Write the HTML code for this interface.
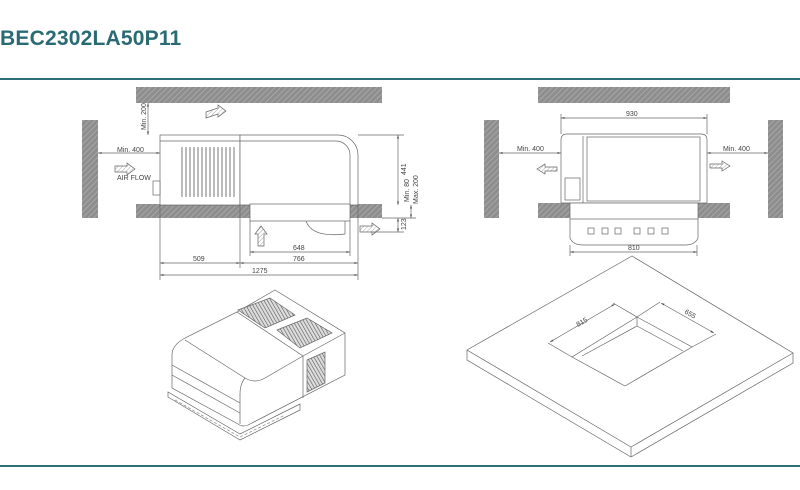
<!DOCTYPE html>
<html><head><meta charset="utf-8"><style>
html,body{margin:0;padding:0;background:#fff;width:800px;height:490px;overflow:hidden}
.t{position:absolute;left:0;top:27px;font:bold 21px "Liberation Sans",sans-serif;color:#2a6b73;letter-spacing:0.2px}
svg{position:absolute;left:0;top:0}
text{font-family:"Liberation Sans",sans-serif;font-size:7px;fill:#444}
</style></head><body>
<div class="t">BEC2302LA50P11</div>
<svg width="800" height="490" viewBox="0 0 800 490">
<defs>
<pattern id="h" width="4" height="4" patternUnits="userSpaceOnUse" patternTransform="rotate(45)">
<rect width="4" height="4" fill="#8e8e8e"/><line x1="0" y1="0" x2="0" y2="4" stroke="#b5b5b5" stroke-width="1.2"/></pattern>
<pattern id="a" width="3" height="3" patternUnits="userSpaceOnUse" patternTransform="rotate(45)">
<rect width="3" height="3" fill="#fff"/><line x1="0" y1="0" x2="0" y2="3" stroke="#aaa" stroke-width="1"/></pattern>
<pattern id="g" width="3" height="3" patternUnits="userSpaceOnUse" patternTransform="rotate(-30)">
<rect width="3" height="3" fill="#ddd"/><line x1="0" y1="0" x2="0" y2="3" stroke="#555" stroke-width="1.2"/></pattern>
<marker id="m" markerWidth="6" markerHeight="6" refX="5" refY="3" orient="auto-start-reverse"><path d="M0,1.5 L5,3 L0,4.5" fill="#555"/></marker>
</defs>
<line x1="0" y1="79" x2="800" y2="79" stroke="#2d6f76" stroke-width="2"/>
<line x1="0" y1="466" x2="800" y2="466" stroke="#2d6f76" stroke-width="2"/>
<g stroke="#666" stroke-width="0.7" fill="none">
<!-- LEFT VIEW -->
<rect x="136" y="87" width="246" height="16" fill="url(#h)" stroke="none"/>
<rect x="82" y="120" width="16" height="98" fill="url(#h)" stroke="none"/>
<rect x="136" y="204" width="114" height="14" fill="url(#h)" stroke="none"/>
<rect x="350" y="204" width="32" height="14" fill="url(#h)" stroke="none"/>
<rect x="160" y="135" width="80" height="70" fill="#fff"/>
<path d="M240,135 H338 A20,20 0 0 1 358,155 V205 H240 Z" fill="#fff"/>
<path d="M240,141 H336 A14,14 0 0 1 350,155 V205"/>
<line x1="160" y1="141" x2="240" y2="141"/>
<g stroke="#777" stroke-width="1">
<line x1="182" y1="147" x2="182" y2="197"/><line x1="186" y1="147" x2="186" y2="197"/><line x1="190" y1="147" x2="190" y2="197"/><line x1="194" y1="147" x2="194" y2="197"/><line x1="198" y1="147" x2="198" y2="197"/><line x1="202" y1="147" x2="202" y2="197"/><line x1="206" y1="147" x2="206" y2="197"/><line x1="210" y1="147" x2="210" y2="197"/><line x1="214" y1="147" x2="214" y2="197"/><line x1="218" y1="147" x2="218" y2="197"/><line x1="222" y1="147" x2="222" y2="197"/><line x1="226" y1="147" x2="226" y2="197"/><line x1="230" y1="147" x2="230" y2="197"/><line x1="234" y1="147" x2="234" y2="197"/>
</g>
<rect x="153" y="181" width="7" height="14" fill="#fff"/>
<rect x="250" y="204" width="100" height="17" fill="#fff"/>
<path d="M306,221 Q312,238 345,234 V221"/>
<path d="M206,112 l12,-4 v-3 l8,6 l-8,6 v-3 l-12,4z" fill="url(#a)"/>
<path d="M115,166 h12 v-3 l8,6 l-8,6 v-3 h-12z" fill="url(#a)"/>
<path d="M258,246 v-12 h-3 l6,-8 l6,8 h-3 v12z" fill="url(#a)"/>
<path d="M360,226 h12 v-3 l8,6 l-8,6 v-3 h-12z" fill="url(#a)"/>
<line x1="98" y1="153" x2="160" y2="153" marker-start="url(#m)" marker-end="url(#m)"/>
<line x1="148" y1="103" x2="148" y2="135" marker-start="url(#m)" marker-end="url(#m)"/>
<line x1="398" y1="135" x2="398" y2="205" marker-start="url(#m)" marker-end="url(#m)"/>
<line x1="411" y1="205" x2="411" y2="218" marker-start="url(#m)" marker-end="url(#m)"/>
<line x1="398" y1="218" x2="398" y2="232" marker-start="url(#m)" marker-end="url(#m)"/>
<line x1="358" y1="135" x2="404" y2="135"/><line x1="382" y1="218" x2="416" y2="218"/><line x1="370" y1="232" x2="404" y2="232"/>
<line x1="160" y1="205" x2="160" y2="280"/><line x1="240" y1="205" x2="240" y2="268"/><line x1="358" y1="205" x2="358" y2="280"/><line x1="250" y1="221" x2="250" y2="256"/><line x1="350" y1="221" x2="350" y2="256"/>
<line x1="250" y1="252" x2="350" y2="252" marker-start="url(#m)" marker-end="url(#m)"/>
<line x1="160" y1="263" x2="240" y2="263" marker-start="url(#m)" marker-end="url(#m)"/>
<line x1="240" y1="263" x2="358" y2="263" marker-start="url(#m)" marker-end="url(#m)"/>
<line x1="160" y1="275" x2="358" y2="275" marker-start="url(#m)" marker-end="url(#m)"/>
<!-- RIGHT VIEW -->
<rect x="538" y="87" width="192" height="16" fill="url(#h)" stroke="none"/>
<rect x="484" y="120" width="15" height="98" fill="url(#h)" stroke="none"/>
<rect x="768" y="120" width="15" height="98" fill="url(#h)" stroke="none"/>
<rect x="538" y="203" width="32" height="15" fill="url(#h)" stroke="none"/>
<rect x="698" y="203" width="32" height="15" fill="url(#h)" stroke="none"/>
<path d="M561,140 Q561,134 567,134 H701 Q707,134 707,140 V203 H561Z" fill="#fff"/>
<rect x="587" y="137" width="113" height="64" fill="#fff"/>
<line x1="583" y1="136" x2="583" y2="203"/>
<rect x="565" y="178" width="15" height="22" fill="#fff"/>
<rect x="570" y="203" width="128" height="16" fill="#fff"/>
<path d="M570,219 V238 Q573,245 583,245 H685 Q695,245 698,238 V219"/>
<g><rect x="588" y="228" width="6" height="6"/><rect x="602" y="228" width="6" height="6"/><rect x="615" y="228" width="6" height="6"/><rect x="634" y="228" width="6" height="6"/><rect x="648" y="228" width="6" height="6"/><rect x="662" y="228" width="6" height="6"/></g>
<path d="M557,167 h-12 v-3 l-8,5 l8,5 v-3 h12z" fill="url(#a)"/>
<path d="M710,164 h12 v-3 l8,5 l-8,5 v-3 h-12z" fill="url(#a)"/>
<line x1="499" y1="153" x2="561" y2="153" marker-start="url(#m)" marker-end="url(#m)"/>
<line x1="707" y1="153" x2="768" y2="153" marker-start="url(#m)" marker-end="url(#m)"/>
<line x1="561" y1="118" x2="707" y2="118" marker-start="url(#m)" marker-end="url(#m)"/>
<line x1="561" y1="114" x2="561" y2="134"/><line x1="707" y1="114" x2="707" y2="134"/>
<line x1="570" y1="252" x2="697" y2="252" marker-start="url(#m)" marker-end="url(#m)"/>
<line x1="570" y1="245" x2="570" y2="256"/><line x1="697" y1="245" x2="697" y2="256"/>
<!-- SLAB -->
<path d="M632,256 L793,353 L631,447 L467,350Z" fill="#fff"/>
<path d="M467,350 V360 L631,457 L793,363 V353 M631,447 V457"/>
<path d="M637,317 L692,347 L625,386 L572,357Z"/>
<path d="M637,317 V326 L582,356 M637,326 L683,351"/>
<line x1="550" y1="342" x2="615" y2="304" marker-start="url(#m)" marker-end="url(#m)"/>
<line x1="661" y1="303" x2="714" y2="333" marker-start="url(#m)" marker-end="url(#m)"/>
<line x1="572" y1="357" x2="548" y2="343"/><line x1="637" y1="317" x2="613" y2="303"/><line x1="637" y1="317" x2="660" y2="302"/><line x1="692" y1="347" x2="716" y2="334"/>
<!-- ISO UNIT -->
<path d="M168,397 L240,440 L300,410 L300,404 L240,434 L168,392Z" fill="#fff"/>
<path d="M175,400 L240,437 L285,415" stroke="#888" stroke-dasharray="3,2"/>
<path d="M237,312 L275,290 L345,333 V375 L250,424 Q243,428 238,424 L172,388 V355 Q172,345 185,338 Z" fill="#fff"/>
<path d="M185,340 L245,378 Q255,384 265,378 L303,356 L345,333"/>
<path d="M245,378 Q240,384 240,394 V424"/>
<path d="M303,356 V398"/>
<path d="M172,365 L240,403 M172,375 L240,413 M237,312 L303,356"/>
<path d="M238,310 L270,298 L295,315 L265,328Z" fill="url(#g)"/>
<path d="M277,330 L307,318 L332,333 L300,348Z" fill="url(#g)"/>
<path d="M307,360 L325,352 L325,383 L307,392Z" fill="url(#g)"/>
</g>
<g>
<text x="117" y="152">Min. 400</text>
<text x="117" y="180" font-size="5">AIR FLOW</text>
<text x="146" y="130" transform="rotate(-90 146 130)">Min. 200</text>
<text x="406" y="175" transform="rotate(-90 406 175)">441</text>
<text x="409" y="202" transform="rotate(-90 409 202)">Min. 80</text>
<text x="418" y="204" transform="rotate(-90 418 204)">Max. 200</text>
<text x="406" y="230" transform="rotate(-90 406 230)">123</text>
<text x="193" y="261">509</text><text x="293" y="250">648</text><text x="293" y="261">766</text><text x="252" y="273">1275</text>
<text x="517" y="151">Min. 400</text><text x="723" y="151">Min. 400</text>
<text x="626" y="116">930</text><text x="628" y="250">810</text>
<text x="578" y="327" transform="rotate(-30 578 327)">815</text>
<text x="684" y="313" transform="rotate(30 684 313)">655</text>
</g>
</svg>
</body></html>
